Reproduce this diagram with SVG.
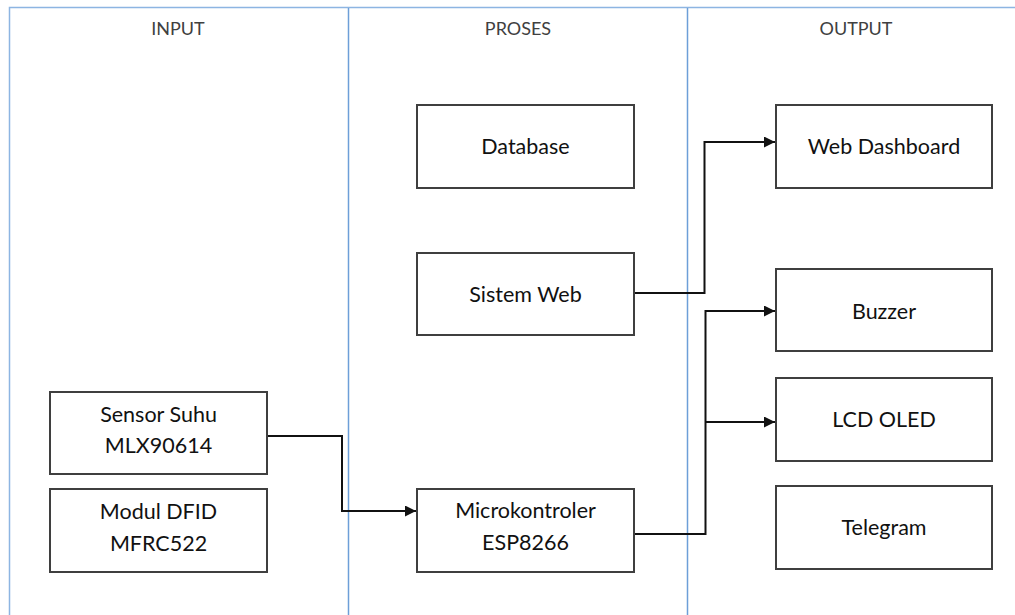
<svg xmlns="http://www.w3.org/2000/svg" width="1015" height="615" viewBox="0 0 1015 615">
<defs>
<style>
.lane{stroke:#8db5e2;stroke-width:1.5;fill:none}
.div{stroke:#6d9fd8;stroke-width:1.5;fill:none}
.hdr{font-family:Lato,"Liberation Sans",sans-serif;font-size:18px;fill:#404040;text-anchor:middle}
.box{fill:#fff;stroke:#3f3f3f;stroke-width:2}
.lbl{font-family:Lato,"Liberation Sans",sans-serif;font-size:21.5px;fill:#111;text-anchor:middle}
.con{stroke:#111;stroke-width:2;fill:none}
</style>
<marker id="arr" viewBox="0 0 10 10" refX="10" refY="5" markerWidth="11" markerHeight="11" markerUnits="userSpaceOnUse" orient="auto">
<path d="M0,0 L10,5 L0,10 z" fill="#111"/>
</marker>
</defs>
<rect width="1015" height="615" fill="#fff"/>
<g id="lanes">
<path class="lane" d="M9.5,615 V7.5 H1015"/>
<path class="div" d="M348.5,8 V615 M687.5,8 V615"/>
<text class="hdr" x="178" y="35">INPUT</text>
<text class="hdr" x="518" y="35">PROSES</text>
<text class="hdr" x="856" y="35">OUTPUT</text>
</g>
<g id="connectors">
<path class="con" d="M267,436 H342 V511 H416" marker-end="url(#arr)"/>
<path class="con" d="M634,293 H704.5 V142 H775" marker-end="url(#arr)"/>
<path class="con" d="M634,534 H705.5 V311 H775" marker-end="url(#arr)"/>
<path class="con" d="M705.5,422 H775" marker-end="url(#arr)"/>
</g>
<g id="database"><rect class="box" x="417" y="105" width="217" height="83"/><text class="lbl" x="525.5" y="154">Database</text></g>
<g id="sistem-web"><rect class="box" x="417" y="253" width="217" height="82"/><text class="lbl" x="525.5" y="302">Sistem Web</text></g>
<g id="microkontroler"><rect class="box" x="417" y="489" width="217" height="83"/><text class="lbl" x="525.5" y="518">Microkontroler</text><text class="lbl" x="525.5" y="550">ESP8266</text></g>
<g id="sensor-suhu"><rect class="box" x="50" y="392" width="217" height="82"/><text class="lbl" x="158.5" y="422">Sensor Suhu</text><text class="lbl" x="158.5" y="453">MLX90614</text></g>
<g id="modul-dfid"><rect class="box" x="50" y="489" width="217" height="83"/><text class="lbl" x="158.5" y="519">Modul DFID</text><text class="lbl" x="158.5" y="551">MFRC522</text></g>
<g id="web-dashboard"><rect class="box" x="776" y="105" width="216" height="83"/><text class="lbl" x="884" y="154">Web Dashboard</text></g>
<g id="buzzer"><rect class="box" x="776" y="269" width="216" height="82"/><text class="lbl" x="884" y="319">Buzzer</text></g>
<g id="lcd-oled"><rect class="box" x="776" y="378" width="216" height="83"/><text class="lbl" x="884" y="427">LCD OLED</text></g>
<g id="telegram"><rect class="box" x="776" y="486" width="216" height="83"/><text class="lbl" x="884" y="535">Telegram</text></g>
</svg>
